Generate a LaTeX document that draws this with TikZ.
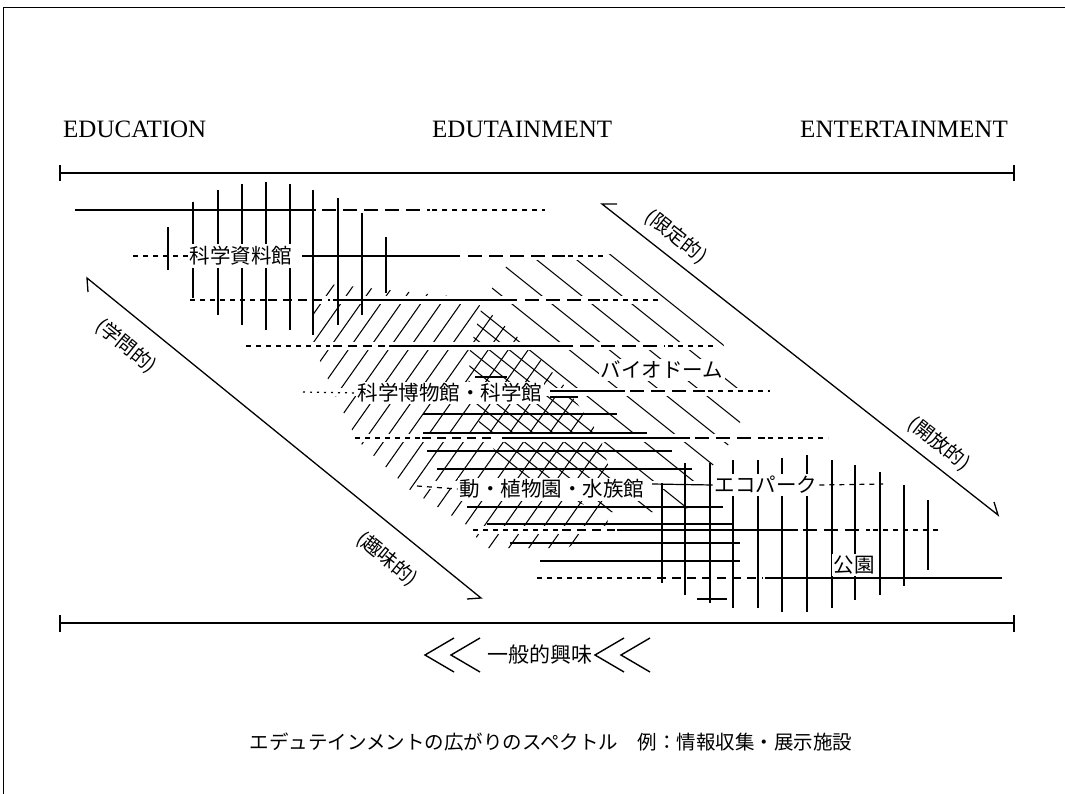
\documentclass[tikz,border=0pt]{standalone}
\usepackage{fontspec}
\setmainfont{Liberation Serif}
\newfontfamily\jp{Noto Sans CJK JP}
\newcommand\myRegionB{(318,283) -- (450,296) -- (482,306) -- (523,342) -- (560,380) -- (600,435) -- (612,480) -- (607,527) -- (567,548) -- (483,548) -- (470,527) -- (410,490) -- (357,440) -- (335,395) -- (313,345) -- (313,300) -- cycle}
\newcommand\myRegionC{(512,258) -- (612,254) -- (723,343) -- (740,395) -- (740,430) -- (715,462) -- (685,512) -- (600,512) -- (510,472) -- (485,437) -- (468,395) -- (470,350) -- (482,306) -- (495,283) -- cycle}
\begin{document}
\begin{tikzpicture}[x=1pt,y=-1pt,
  hatch/.style={line width=1.05pt},
  rowl/.style={line width=1.2pt},
  ld/.style={rowl, dash pattern=on 14pt off 7pt},
  md/.style={rowl, dash pattern=on 9pt off 6pt},
  sd/.style={rowl, dash pattern=on 5pt off 5pt},
  dt/.style={rowl, dash pattern=on 2pt off 5pt},
  axisl/.style={line width=1.4pt},
  arrl/.style={line width=1.3pt, line join=miter},
  lab/.style={font=\jp\fontsize{20.5}{20.5}\selectfont, fill=white, inner sep=2pt},
  side/.style={font=\jp\fontsize{19.5}{19.5}\selectfont, inner sep=0pt},
  eng/.style={font=\fontsize{25}{25}\selectfont, inner sep=0pt},
  cut/.style={white, line width=8pt},
  chev/.style={line width=1.4pt, line join=miter}
]
\useasboundingbox (0,0) rectangle (1065,794);
\fill[white] (0,0) rectangle (1065,794);
% frame
\draw[line width=1pt] (3,794) -- (3,8) -- (1065,8);

% headings
\node[eng, anchor=base west] (edu) at (63,138) {EDUCATION};
\node[eng, anchor=base west] (edut) at (432,138) {EDUTAINMENT};
\node[eng, anchor=base east] (ent) at (1008,138) {ENTERTAINMENT};

% axes
\coordinate (ta) at (60,173); \coordinate (tb) at (1014,173);
\draw[axisl] (ta) -- (tb);
\draw[axisl] (60,165) -- (60,181);
\draw[axisl] (1014,165) -- (1014,181);
\coordinate (ba) at (60,623); \coordinate (bb) at (1014,623);
\draw[axisl] (ba) -- (bb);
\draw[axisl] (60,615) -- (60,632);
\draw[axisl] (1014,615) -- (1014,632);

% ---- diagonal hatching ----
\begin{scope}
\clip \myRegionB;
\foreach \c in {494.5,514.5,...,1034.5}
  \draw[hatch] ({\c-0.704*240},240) -- ({\c-0.704*560},560);
\end{scope}
\begin{scope}
\clip \myRegionC;
\foreach \c in {-188,-148,...,452}
  \draw[hatch] ({\c+1.25*240},240) -- ({\c+1.25*520},520);
\end{scope}
\begin{scope}
\clip \myRegionB;
\clip \myRegionC;
\foreach \c in {-208,-168,...,432}
  \draw[hatch] ({\c+1.25*240},240) -- ({\c+1.25*520},520);
\end{scope}

% gaps of the diagonal hatching along the rows
\foreach \y/\a/\b in {210/75/545, 256/133/603, 300/190/660, 346/246/713, 392/303/770, 438/355/828, 485/417/883, 530/473/940, 578/537/1002}
  \draw[cut] (\a,\y) -- (\b,\y);

% ---- vertical hatching (upper left) ----
\foreach \x/\a/\b in {168/227/270, 193/202/298, 218/190/315, 242/184/325, 266/182/330, 290/184/330, 313/190/335, 338/198/325, 362/213/315, 386/237/293}
  \draw[hatch] (\x,\a) -- (\x,\b);

% ---- vertical hatching (lower right) ----
\foreach \x/\a/\b in {662/483/583, 685/463/595, 710/463/603, 733/460/608, 758/460/608, 782/458/612, 807/455/612, 832/460/608, 855/465/600, 880/472/595, 904/485/586, 928/500/570}
  \draw[hatch] (\x,\a) -- (\x,\b);

% ---- horizontal hatching ----
\foreach \y/\a/\b in {377/475/507, 414/423/617, 433/423/647, 451/427/672, 469/437/692, 507/467/723, 524/487/733, 543/510/740, 561/540/740, 599/697/727}
  \draw[hatch] (\a,\y) -- (\b,\y);

% ---- rows ----
% row 1
\draw[rowl] (75,210) -- (316,210);
\draw[ld] (322,210) -- (430,210);
\draw[sd] (432,210) -- (545,210);
% row 2
\node[lab] (n1) at (241,256) {科学資料館};
\draw[sd] (133,256) -- (n1.west);
\draw[rowl] (302,256) -- (460,256);
\draw[ld] (468,256) -- (565,256);
\draw[sd] (568,256) -- (603,256);
% row 3
\draw[sd] (190,300) -- (265,300);
\draw[md] (268,300) -- (330,300);
\draw[rowl] (333,300) -- (517,300);
\draw[ld] (525,300) -- (600,300);
\draw[sd] (603,300) -- (660,300);
% row 4
\draw[sd] (246,346) -- (330,346);
\draw[md] (333,346) -- (385,346);
\draw[rowl] (389,346) -- (573,346);
\draw[ld] (580,346) -- (665,346);
\draw[sd] (668,346) -- (713,346);
% biodome
\node[lab] (n2) at (662,370) {バイオドーム};
% row 5
\node[lab] (n3) at (450,393) {科学博物館・科学館};
\draw[dt] (303,392) -- (n3.west);
\draw[rowl] (550,391) -- (625,391);
\draw[rowl] (550,397) -- (578,397);
\draw[ld] (630,391) -- (705,391);
\draw[sd] (708,391) -- (770,391);
% row 6
\draw[sd] (355,438) -- (420,438);
\draw[md] (422,438) -- (495,438);
\draw[rowl] (502,438) -- (690,438);
\draw[ld] (695,438) -- (765,438);
\draw[sd] (768,438) -- (828,438);
% row 7
\node[lab] (n4) at (552,489) {動・植物園・水族館};
\node[lab] (n5) at (766,485) {エコパーク};
\draw[sd] (417,486) -- (n4.west);
\draw[rowl] (652,484) -- (n5.west);
\draw[sd] (n5.east) -- (883,484);
% row 8
\draw[sd] (473,530) -- (560,530);
\draw[md] (562,530) -- (615,530);
\draw[rowl] (617,530) -- (798,530);
\draw[ld] (803,530) -- (870,530);
\draw[sd] (873,530) -- (940,530);
% park
\node[lab] (n6) at (854,565) {公園};
% row 10
\draw[sd] (537,578) -- (640,578);
\draw[md] (642,578) -- (763,578);
\draw[rowl] (765,578) -- (1002,578);

% ---- side arrows ----
\coordinate (la1) at (87,278); \coordinate (la2) at (481,598);
\draw[arrl] (88,292) -- (la1) -- (la2) -- (467,599);
\coordinate (ra1) at (602,204); \coordinate (ra2) at (998,515);
\draw[arrl] (617,204) -- (ra1) -- (ra2) -- (994,502);
\node[side, rotate=-39.1] (s1) at (126,346) {(学問的)};
\node[side, rotate=-39.1] (s2) at (387,559) {(趣味的)};
\node[side, rotate=-38.1] (s3) at (676,237) {(限定的)};
\node[side, rotate=-38.1] (s4) at (939,444) {(開放的)};

% ---- general interest ----
\node[font=\jp\fontsize{21}{21}\selectfont, inner sep=0pt] (gi) at (540,654) {一般的興味};
\draw[chev] (454,638) -- (425,655) -- (454,672);
\draw[chev] (480,638) -- (451,655) -- (480,672);
\draw[chev] (624,638) -- (595,655) -- (624,672);
\draw[chev] (650,638) -- (621,655) -- (650,672);

% ---- caption ----
\node[font=\jp\fontsize{19.5}{20}\selectfont, inner sep=0pt] (cap) at (551,742) {エデュテインメントの広がりのスペクトル　例：情報収集・展示施設};
\end{tikzpicture}
\end{document}
